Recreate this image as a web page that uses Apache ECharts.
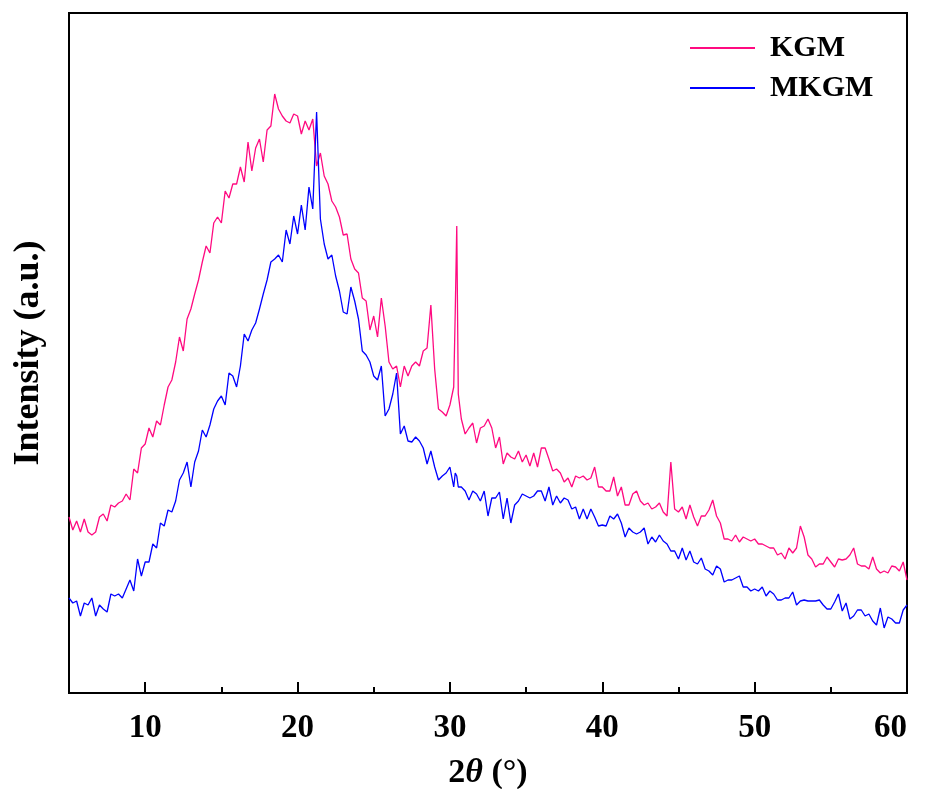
<!DOCTYPE html>
<html><head><meta charset="utf-8">
<script src="https://cdn.jsdelivr.net/npm/echarts@6/dist/echarts.min.js"></script>
<style>html,body{margin:0;padding:0;background:#fff}#c{width:927px;height:789px}</style>
</head><body><div id="c"></div>
<script>
// 2θ positions (degrees)
const twoTheta = [
5,5.25,5.5,5.75,6,6.25,6.5,6.75,7,7.25,7.5,7.75,8,8.25,8.5,8.75,9,9.25,9.5,9.75,
10,10.25,10.5,10.75,11,11.25,11.5,11.75,12,12.25,12.5,12.75,13,13.25,13.5,13.75,14,14.25,14.5,14.75,
15,15.25,15.5,15.75,16,16.25,16.5,16.75,17,17.25,17.5,17.75,18,18.25,18.5,18.75,19,19.25,19.5,19.75,
20,20.25,20.5,20.75,21,21.25,21.5,21.75,22,22.25,22.5,22.75,23,23.25,23.5,23.75,24,24.25,24.5,24.75,
25,25.25,25.5,25.75,26,26.25,26.5,26.75,27,27.25,27.5,27.75,28,28.25,28.5,28.75,29,29.25,29.5,29.75,
30,30.25,30.35,30.45,30.55,30.75,31,31.25,31.5,31.75,32,32.25,32.5,32.75,33,33.25,33.5,33.75,34,34.25,34.5,34.75,
35,35.25,35.5,35.75,36,36.25,36.5,36.75,37,37.25,37.5,37.75,38,38.25,38.5,38.75,39,39.25,39.5,39.75,
40,40.25,40.5,40.75,41,41.25,41.5,41.75,42,42.25,42.5,42.75,43,43.25,43.5,43.75,44,44.25,44.5,44.75,
45,45.25,45.5,45.75,46,46.25,46.5,46.75,47,47.25,47.5,47.75,48,48.25,48.5,48.75,49,49.25,49.5,49.75,
50,50.25,50.5,50.75,51,51.25,51.5,51.75,52,52.25,52.5,52.75,53,53.25,53.5,53.75,54,54.25,54.5,54.75,
55,55.25,55.5,55.75,56,56.25,56.5,56.75,57,57.25,57.5,57.75,58,58.25,58.5,58.75,59,59.25,59.5,59.75,
60];

// KGM intensity (a.u.)
const kgm = [
176,163,172,161,174,161,158,161,176,179,172,188,186,190,192,199,193,224,220,245,
249,265,256,272,268,288,306,313,331,356,342,374,384,399,413,431,447,440,470,476,
470,502,495,509,509,526,511,551,522,545,554,531,563,567,599,584,577,572,570,579,
577,559,572,563,574,527,540,517,509,492,486,476,458,459,434,424,420,395,392,363,
377,356,395,367,331,324,327,306,327,317,327,331,327,342,345,388,324,284,281,277,
288,306,381,467,299,274,259,265,270,250,265,267,274,265,245,256,229,240,236,234,242,231,
238,227,240,226,245,245,234,222,224,220,211,215,206,217,215,217,213,215,226,206,
206,202,202,216,197,206,188,188,199,202,192,188,190,184,186,190,181,177,231,184,
181,186,174,188,176,167,177,177,183,193,177,170,154,154,152,158,151,156,154,152,
154,149,149,147,145,145,138,140,134,145,140,145,167,156,138,134,126,129,129,136,
131,126,134,133,134,138,145,129,127,127,124,136,124,120,122,120,127,126,122,131,
113];

// MKGM intensity (a.u.)
const mkgm = [
95,90,92,77,90,88,95,77,88,84,81,99,97,99,95,104,113,102,134,117,
131,131,149,145,170,167,183,181,192,213,220,231,206,231,242,263,256,268,284,292,
297,288,320,317,306,327,359,352,363,370,384,399,413,431,434,438,431,463,449,477,
459,488,463,506,484,581,474,449,434,438,417,402,381,379,406,392,374,342,338,331,
317,313,327,277,284,299,320,259,267,252,251,256,252,245,229,242,226,213,217,220,
226,206,220,217,206,206,202,193,202,199,192,202,177,195,195,201,174,195,170,188,192,199,
197,195,197,202,202,192,206,188,197,190,195,193,184,186,174,184,174,184,176,167,
168,167,177,174,179,170,156,165,161,159,161,165,149,156,151,158,152,149,142,142,
134,145,133,142,131,129,135,124,122,118,127,124,111,113,113,115,117,106,106,102,
104,102,106,97,102,99,93,93,95,95,101,88,92,93,92,92,92,93,88,84,
84,91,99,82,90,74,77,83,83,77,79,72,68,85,65,76,74,70,70,83,
88];

const seriesNames = ['KGM', 'MKGM'];
const xMajorTicks = [10, 20, 30, 40, 50, 60];
const xMinorTicks = [15, 25, 35, 45, 55];

const serif = 'Liberation Serif, Times New Roman, serif';
const chart = echarts.init(document.getElementById('c'), null, {renderer: 'canvas'});
chart.setOption({
  animation: false,
  backgroundColor: '#fff',
  grid: {left: 69, right: 20, top: 13, bottom: 96, show: true, borderColor: '#000', borderWidth: 2,
         containLabel: false, outerBoundsMode: 'none'},
  legend: {
    orient: 'vertical', left: 690, top: 33, itemGap: 10, padding: 0,
    itemWidth: 65, itemHeight: 2, icon: 'rect',
    data: seriesNames,
    textStyle: {fontFamily: serif, fontWeight: 'bold', fontSize: 30, color: '#000', padding: [0, 0, 0, 10]}
  },
  xAxis: [{
    type: 'value', min: 5, max: 60, position: 'bottom',
    axisLine: {show: true, lineStyle: {color: '#000', width: 2}},
    axisTick: {show: true, inside: true, length: 11, customValues: xMajorTicks, lineStyle: {color: '#000', width: 2}},
    axisLabel: {customValues: xMajorTicks, alignMaxLabel: 'right', color: '#000', fontFamily: serif, fontWeight: 'bold', fontSize: 33, margin: 19},
    splitLine: {show: false},
    name: '{n|2}{i|θ}{n| (°)}', nameLocation: 'middle', nameGap: 63,
    nameTextStyle: {rich: {
      n: {fontFamily: serif, fontWeight: 'bold', fontSize: 34, color: '#000'},
      i: {fontFamily: serif, fontWeight: 'bold', fontStyle: 'italic', fontSize: 34, color: '#000'}
    }}
  }, {
    type: 'value', min: 5, max: 60, position: 'bottom',
    axisLine: {show: false},
    axisTick: {show: true, inside: true, length: 6, customValues: xMinorTicks, lineStyle: {color: '#000', width: 2}},
    axisLabel: {show: false},
    splitLine: {show: false}
  }],
  yAxis: {
    type: 'value', min: 0, max: 680,
    axisLine: {show: true, lineStyle: {color: '#000', width: 2}},
    axisTick: {show: false}, axisLabel: {show: false}, splitLine: {show: false},
    name: 'Intensity (a.u.)', nameLocation: 'middle', nameGap: 22, nameRotate: 90,
    nameTextStyle: {fontFamily: serif, fontWeight: 'bold', fontSize: 36, color: '#000'}
  },
  series: [
    {name: seriesNames[0], type: 'line', showSymbol: false, xAxisIndex: 0,
     data: twoTheta.map((t, i) => [t, kgm[i]]),
     lineStyle: {color: '#ff0a80', width: 1.3}, itemStyle: {color: '#ff0a80'}},
    {name: seriesNames[1], type: 'line', showSymbol: false, xAxisIndex: 0,
     data: twoTheta.map((t, i) => [t, mkgm[i]]),
     lineStyle: {color: '#0000ff', width: 1.3}, itemStyle: {color: '#0000ff'}}
  ]
});
</script>
</body></html>
